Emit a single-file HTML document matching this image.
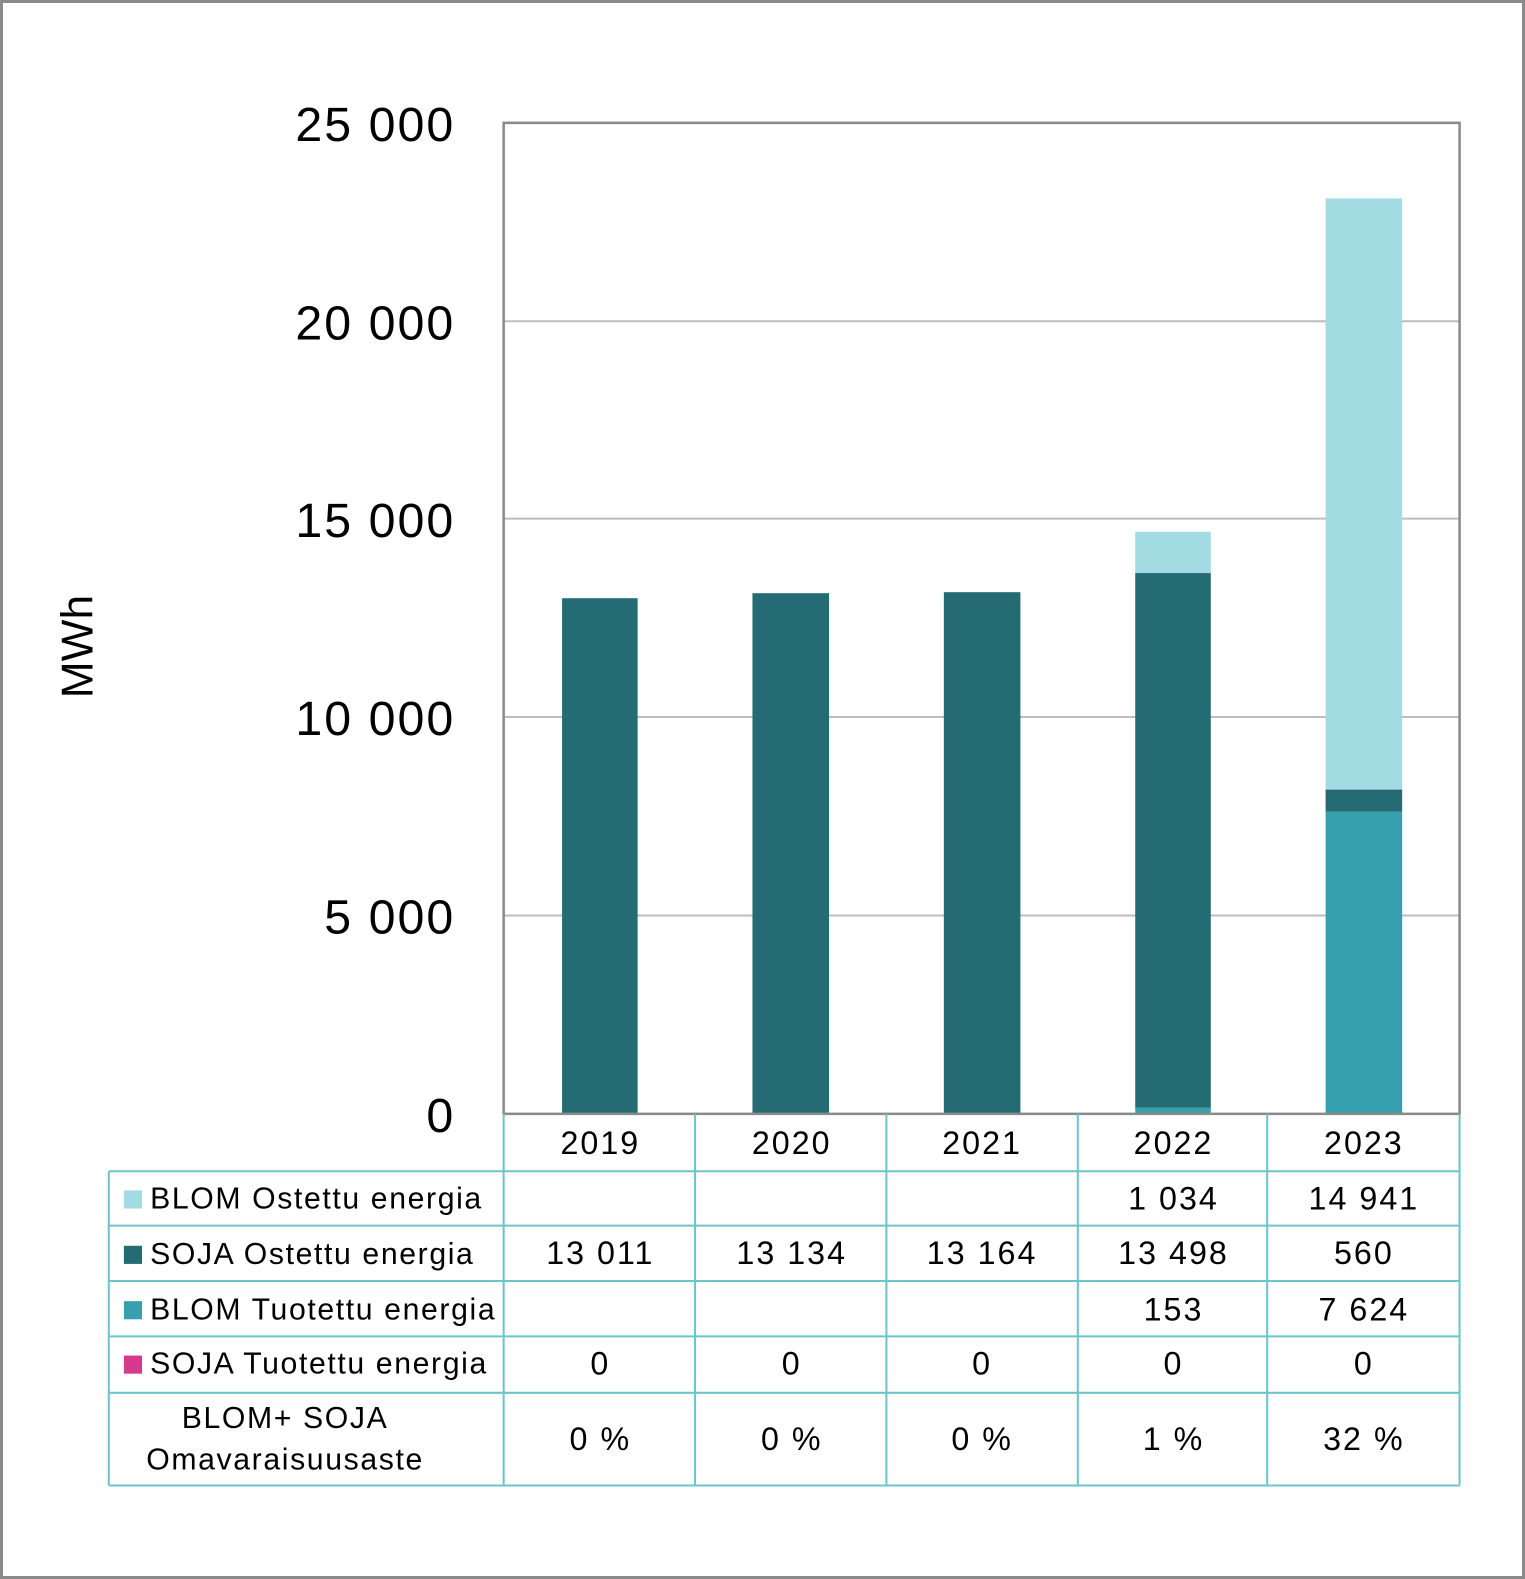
<!DOCTYPE html>
<html><head><meta charset="utf-8"><style>
html,body{margin:0;padding:0;background:#fff}
svg{display:block}
text{font-family:"Liberation Sans",sans-serif;fill:#000}
</style></head><body>
<svg width="1525" height="1579" viewBox="0 0 1525 1579" xmlns="http://www.w3.org/2000/svg">
<rect x="1.5" y="1.5" width="1522" height="1576" fill="#fff" stroke="#8a8a8a" stroke-width="3"/>
<g transform="scale(1.0073 1.0071)">
<g stroke="#bdbdbd" stroke-width="2">
<line x1="500" y1="319" x2="1449" y2="319"/>
<line x1="500" y1="515" x2="1449" y2="515"/>
<line x1="500" y1="712" x2="1449" y2="712"/>
<line x1="500" y1="909" x2="1449" y2="909"/>
</g>
<g>
<rect x="558" y="594" width="75" height="512" fill="#246b73"/>
<rect x="747" y="589" width="76" height="517" fill="#246b73"/>
<rect x="937" y="588" width="76" height="518" fill="#246b73"/>
<rect x="1127" y="1100" width="75" height="6" fill="#36a0ae"/>
<rect x="1127" y="569" width="75" height="531" fill="#246b73"/>
<rect x="1127" y="528" width="75" height="41" fill="#a2dbe2"/>
<rect x="1316" y="806" width="76" height="300" fill="#36a0ae"/>
<rect x="1316" y="784" width="76" height="22" fill="#246b73"/>
<rect x="1316" y="197" width="76" height="587" fill="#a2dbe2"/>
</g>
<rect x="500" y="122" width="949" height="984" fill="none" stroke="#8a8a8a" stroke-width="2.5"/>
<g font-size="48" text-anchor="end" letter-spacing="2">
<text x="452" y="140">25 000</text>
<text x="452" y="337">20 000</text>
<text x="452" y="533">15 000</text>
<text x="452" y="730">10 000</text>
<text x="452" y="927">5 000</text>
<text x="452" y="1124">0</text>
</g>
<text transform="translate(92,642) rotate(-90)" font-size="44" text-anchor="middle">MWh</text>
<g stroke="#6cc4cc" stroke-width="2" fill="none">
<line x1="500" y1="1106" x2="500" y2="1475"/>
<line x1="690" y1="1106" x2="690" y2="1475"/>
<line x1="880" y1="1106" x2="880" y2="1475"/>
<line x1="1070" y1="1106" x2="1070" y2="1475"/>
<line x1="1258" y1="1106" x2="1258" y2="1475"/>
<line x1="1449" y1="1106" x2="1449" y2="1475"/>
<line x1="108" y1="1163" x2="108" y2="1475"/>
<line x1="108" y1="1163" x2="1449" y2="1163"/>
<line x1="108" y1="1217" x2="1449" y2="1217"/>
<line x1="108" y1="1272" x2="1449" y2="1272"/>
<line x1="108" y1="1327" x2="1449" y2="1327"/>
<line x1="108" y1="1383" x2="1449" y2="1383"/>
<line x1="108" y1="1475" x2="1449" y2="1475"/>
</g>
<rect x="123" y="1182" width="18" height="18" fill="#a2dbe2"/>
<rect x="123" y="1237" width="18" height="18" fill="#246b73"/>
<rect x="123" y="1292" width="18" height="18" fill="#36a0ae"/>
<rect x="123" y="1346" width="18" height="18" fill="#d63a8f"/>
<g font-size="30" letter-spacing="1.6">
<text x="149" y="1200">BLOM Ostettu energia</text>
<text x="149" y="1255">SOJA Ostettu energia</text>
<text x="149" y="1310">BLOM Tuotettu energia</text>
<text x="149" y="1364">SOJA Tuotettu energia</text>
<text x="283" y="1418" text-anchor="middle">BLOM+ SOJA</text>
<text x="283" y="1459" text-anchor="middle">Omavaraisuusaste</text>
</g>
<g font-size="32" text-anchor="middle" letter-spacing="2">
<text x="596" y="1146">2019</text><text x="786" y="1146">2020</text><text x="975" y="1146">2021</text><text x="1165" y="1146">2022</text><text x="1354" y="1146">2023</text>
<text x="1165" y="1201">1 034</text><text x="1354" y="1201">14 941</text>
<text x="596" y="1255">13 011</text><text x="786" y="1255">13 134</text><text x="975" y="1255">13 164</text><text x="1165" y="1255">13 498</text><text x="1354" y="1255">560</text>
<text x="1165" y="1311">153</text><text x="1354" y="1311">7 624</text>
<text x="596" y="1365">0</text><text x="786" y="1365">0</text><text x="975" y="1365">0</text><text x="1165" y="1365">0</text><text x="1354" y="1365">0</text>
<text x="596" y="1440">0 %</text><text x="786" y="1440">0 %</text><text x="975" y="1440">0 %</text><text x="1165" y="1440">1 %</text><text x="1354" y="1440">32 %</text>
</g>
</g>
</svg>
</body></html>
